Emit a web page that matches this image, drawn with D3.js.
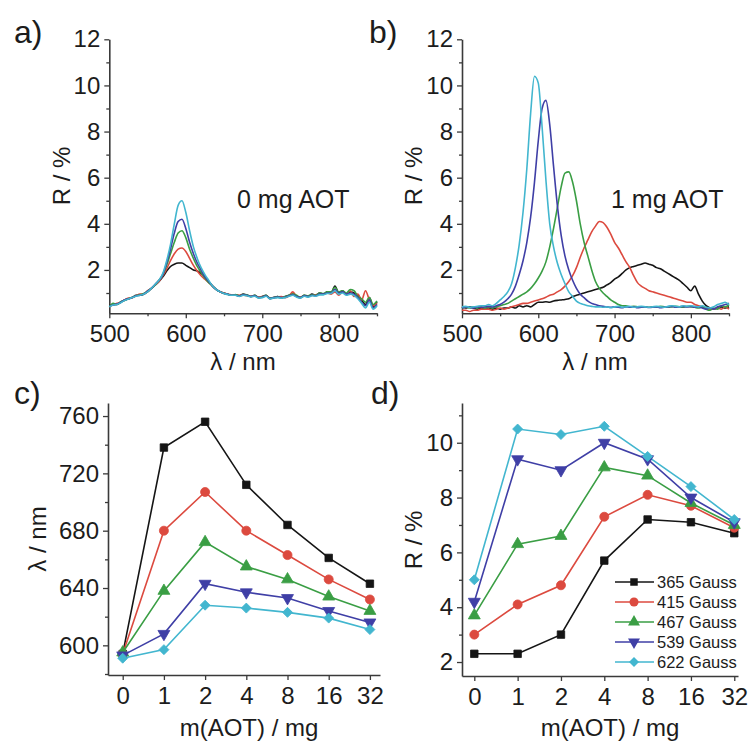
<!DOCTYPE html>
<html>
<head>
<meta charset="utf-8">
<script src="https://cdn.jsdelivr.net/npm/d3@7"></script>
<style>
    body { margin: 0; background: #fff; }
    svg text { font-family: "Liberation Sans", Arial, sans-serif; fill: #1c1c1c; }
</style>
</head>
<body>
<div id="chart"></div>
<script>
// wavelength grid (nm) shared by the spectra
const wl = [500, 505, 510, 515, 520, 525, 530, 535, 540, 545, 550, 555, 560, 565, 570, 575, 580, 585, 590, 595,
    600, 605, 610, 615, 620, 625, 630, 635, 640, 645, 650, 655, 660, 665, 670, 675, 680, 685, 690, 695,
    700, 705, 710, 715, 720, 725, 730, 735, 740, 745, 750, 755, 760, 765, 770, 775, 780, 785, 790, 795,
    800, 805, 810, 815, 820, 825, 830, 835, 840, 845, 850];

// panel a: 0 mg AOT, R / %
const a365 = [0.45, 0.5, 0.5, 0.6, 0.7, 0.75, 0.8, 0.9, 0.9, 0.95, 1.05, 1.2, 1.35, 1.5, 1.7, 1.95, 2.15, 2.25, 2.3, 2.3,
    2.2, 2.1, 2.0, 1.95, 1.85, 1.7, 1.5, 1.3, 1.15, 1.05, 1.0, 0.95, 0.9, 0.92, 0.88, 0.95, 0.9, 0.85, 0.9, 0.8,
    0.85, 0.9, 0.75, 0.8, 0.85, 0.8, 0.85, 0.9, 0.95, 0.85, 0.8, 0.9, 0.85, 0.95, 0.9, 1.0, 0.95, 1.05, 1.0, 1.3,
    1.0, 1.1, 0.95, 1.05, 1.0, 0.9, 0.7, 0.5, 0.8, 0.4, 0.6];
const a415 = [0.4, 0.5, 0.55, 0.6, 0.7, 0.78, 0.8, 0.88, 0.95, 0.95, 1.1, 1.2, 1.35, 1.5, 1.75, 2.05, 2.4, 2.7, 2.9, 2.95,
    2.8, 2.5, 2.2, 1.95, 1.75, 1.6, 1.45, 1.3, 1.15, 1.05, 1.0, 0.95, 0.92, 0.9, 0.9, 0.92, 0.88, 0.85, 0.88, 0.82,
    0.85, 0.88, 0.78, 0.8, 0.82, 0.85, 0.8, 0.88, 1.05, 0.85, 0.82, 0.88, 0.85, 0.9, 0.92, 0.98, 0.95, 1.0, 0.95, 1.05,
    0.9, 1.05, 0.95, 1.1, 0.85, 0.95, 0.7, 1.1, 0.7, 0.45, 0.55];
const a467 = [0.4, 0.55, 0.5, 0.62, 0.68, 0.75, 0.82, 0.88, 0.92, 0.98, 1.08, 1.2, 1.35, 1.55, 1.8, 2.2, 2.7, 3.2, 3.6, 3.7,
    3.4, 2.9, 2.5, 2.15, 1.9, 1.65, 1.45, 1.3, 1.15, 1.05, 0.98, 0.95, 0.9, 0.93, 0.88, 0.93, 0.92, 0.85, 0.9, 0.8,
    0.83, 0.9, 0.78, 0.8, 0.85, 0.78, 0.85, 0.9, 0.95, 0.9, 0.8, 0.9, 0.88, 0.92, 0.9, 1.0, 0.98, 1.05, 1.05, 1.25,
    1.05, 1.1, 1.0, 1.15, 1.1, 0.85, 0.75, 0.6, 0.8, 0.5, 0.65];
const a539 = [0.42, 0.48, 0.52, 0.6, 0.7, 0.75, 0.8, 0.88, 0.9, 0.95, 1.08, 1.2, 1.38, 1.55, 1.8, 2.3, 2.9, 3.6, 4.1, 4.2,
    3.8, 3.2, 2.7, 2.3, 2.0, 1.7, 1.5, 1.3, 1.15, 1.05, 0.98, 0.95, 0.9, 0.9, 0.86, 0.92, 0.9, 0.85, 0.88, 0.8,
    0.82, 0.88, 0.76, 0.8, 0.82, 0.8, 0.82, 0.88, 0.92, 0.85, 0.8, 0.88, 0.85, 0.9, 0.88, 0.95, 0.95, 1.0, 1.0, 1.15,
    1.0, 1.05, 0.95, 1.0, 0.95, 0.8, 0.6, 0.45, 0.7, 0.35, 0.5];
const a622 = [0.4, 0.48, 0.5, 0.58, 0.68, 0.74, 0.8, 0.86, 0.9, 0.95, 1.05, 1.2, 1.38, 1.55, 1.85, 2.4, 3.1, 4.0, 4.8, 5.0,
    4.5, 3.7, 3.0, 2.5, 2.1, 1.8, 1.55, 1.3, 1.15, 1.05, 0.98, 0.93, 0.9, 0.9, 0.85, 0.9, 0.88, 0.83, 0.86, 0.78,
    0.8, 0.86, 0.75, 0.78, 0.8, 0.78, 0.8, 0.86, 0.9, 0.82, 0.78, 0.86, 0.82, 0.88, 0.86, 0.92, 0.92, 0.98, 0.98, 1.1,
    0.95, 1.0, 0.9, 0.95, 0.9, 0.75, 0.55, 0.35, 0.6, 0.3, 0.45];

// panel b: 1 mg AOT, R / %
const b365 = [0.4, 0.35, 0.4, 0.35, 0.3, 0.35, 0.3, 0.35, 0.3, 0.35, 0.3, 0.35, 0.35, 0.4, 0.35, 0.45, 0.4, 0.45, 0.4, 0.5,
    0.6, 0.6, 0.62, 0.6, 0.65, 0.68, 0.7, 0.72, 0.75, 0.85, 0.9, 0.95, 1.0, 1.05, 1.1, 1.15, 1.2, 1.25, 1.35, 1.45,
    1.6, 1.7, 1.85, 2.0, 2.1, 2.15, 2.2, 2.25, 2.3, 2.25, 2.2, 2.1, 2.05, 1.95, 1.85, 1.75, 1.65, 1.55, 1.4, 1.25,
    1.1, 1.3, 0.95, 0.65, 0.45, 0.35, 0.3, 0.35, 0.4, 0.35, 0.4];
const b415 = [0.25, 0.25, 0.2, 0.25, 0.25, 0.3, 0.3, 0.3, 0.25, 0.3, 0.35, 0.3, 0.35, 0.4, 0.45, 0.5, 0.55, 0.55, 0.6, 0.65,
    0.7, 0.75, 0.82, 0.9, 0.95, 1.05, 1.15, 1.3, 1.5, 1.75, 2.1, 2.55, 2.95, 3.3, 3.65, 3.9, 4.1, 4.05, 3.85, 3.55,
    3.2, 2.95, 2.65, 2.35, 2.1, 1.75, 1.45, 1.3, 1.2, 1.1, 1.05, 1.0, 0.95, 0.9, 0.85, 0.8, 0.75, 0.7, 0.65, 0.6,
    0.6, 0.5, 0.45, 0.4, 0.35, 0.3, 0.3, 0.35, 0.3, 0.4, 0.3];
const b467 = [0.35, 0.4, 0.35, 0.4, 0.35, 0.4, 0.35, 0.4, 0.35, 0.4, 0.45, 0.5, 0.55, 0.65, 0.75, 0.85, 0.95, 1.05, 1.2, 1.4,
    1.65, 1.95, 2.35, 3.0, 3.8, 4.7, 5.6, 6.2, 6.25, 5.8, 5.0, 4.0, 3.2, 2.6, 2.0, 1.5, 1.2, 1.0, 0.85, 0.7,
    0.6, 0.5, 0.45, 0.45, 0.4, 0.42, 0.4, 0.38, 0.4, 0.38, 0.4, 0.38, 0.42, 0.4, 0.38, 0.4, 0.42, 0.4, 0.38, 0.42,
    0.4, 0.38, 0.35, 0.4, 0.3, 0.25, 0.35, 0.3, 0.45, 0.4, 0.5];
const b539 = [0.35, 0.4, 0.38, 0.35, 0.4, 0.38, 0.4, 0.42, 0.4, 0.45, 0.5, 0.6, 0.75, 0.95, 1.3, 1.8, 2.4, 3.2, 4.3, 5.8,
    7.6, 9.0, 9.35, 8.3, 6.5, 4.8, 3.5, 2.6, 2.0, 1.55, 1.2, 0.95, 0.8, 0.65, 0.55, 0.5, 0.45, 0.42, 0.4, 0.38,
    0.4, 0.38, 0.36, 0.4, 0.38, 0.4, 0.36, 0.38, 0.4, 0.37, 0.38, 0.4, 0.36, 0.38, 0.4, 0.42, 0.38, 0.4, 0.42, 0.4,
    0.42, 0.38, 0.4, 0.35, 0.3, 0.35, 0.3, 0.4, 0.45, 0.5, 0.55];
const b622 = [0.4, 0.42, 0.38, 0.4, 0.42, 0.45, 0.45, 0.5, 0.45, 0.55, 0.7, 0.85, 1.05, 1.4, 2.1, 3.1, 4.5, 6.4, 8.8, 10.4,
    10.1, 8.2, 5.9, 4.0, 3.0, 2.3, 1.8, 1.4, 1.05, 0.85, 0.65, 0.55, 0.5, 0.45, 0.42, 0.4, 0.4, 0.38, 0.4, 0.36,
    0.4, 0.42, 0.38, 0.4, 0.42, 0.38, 0.4, 0.42, 0.4, 0.38, 0.4, 0.42, 0.4, 0.38, 0.42, 0.45, 0.42, 0.4, 0.45, 0.42,
    0.45, 0.42, 0.4, 0.45, 0.38, 0.35, 0.4, 0.5, 0.55, 0.6, 0.5];

// panels c and d
const aot = ["0", "1", "2", "4", "8", "16", "32"];
const gauss = ["365 Gauss", "415 Gauss", "467 Gauss", "539 Gauss", "622 Gauss"];
const lam365 = [594, 738, 756, 712, 684, 661, 643];
const lam415 = [594, 680, 707, 680, 663, 646, 632];
const lam467 = [595, 638, 672, 655, 646, 634, 624];
const lam539 = [593, 608, 643, 637, 633, 624, 616];
const lam622 = [591, 597, 628, 626, 623, 619, 611];
const r365 = [2.3, 2.3, 3.0, 5.7, 7.2, 7.1, 6.7];
const r415 = [3.0, 4.1, 4.8, 7.3, 8.1, 7.7, 6.9];
const r467 = [3.7, 6.3, 6.6, 9.1, 8.8, 7.8, 7.0];
const r539 = [4.2, 9.4, 9.0, 10.0, 9.4, 8.0, 7.1];
const r622 = [5.0, 10.5, 10.3, 10.6, 9.5, 8.4, 7.2];

const colors = ["#151515", "#dc4a3f", "#3a9e44", "#3f3fa6", "#42b6cf"];
const shapes = ["square", "circle", "up", "down", "diamond"];

const svg = d3.select("#chart").append("svg")
    .attr("width", 752)
    .attr("height", 745);

// draws major + minor ticks along the left / bottom edge
function drawAxes(xs, ys, xMajor, xMinor, yMajor, yMinor, xFmt) {
    const x0 = xs.range()[0], y0 = ys.range()[0];

    const gx = svg.append("g").attr("transform", `translate(0,${y0})`)
        .call(d3.axisBottom(xs).tickValues(xMajor).tickSize(5).tickPadding(7).tickSizeOuter(0).tickFormat(xFmt || d3.format("d")));
    svg.append("g").attr("transform", `translate(0,${y0})`)
        .call(d3.axisBottom(xs).tickValues(xMinor).tickSize(3).tickFormat(""))
        .select(".domain").remove();

    const gy = svg.append("g").attr("transform", `translate(${x0},0)`)
        .call(d3.axisLeft(ys).tickValues(yMajor).tickSize(5).tickPadding(4).tickSizeOuter(0));
    svg.append("g").attr("transform", `translate(${x0},0)`)
        .call(d3.axisLeft(ys).tickValues(yMinor).tickSize(3).tickFormat(""))
        .select(".domain").remove();

    svg.selectAll("g.tick text").attr("font-size", 24).style("font-family", '"Liberation Sans", Arial, sans-serif');
    [gx, gy].forEach(g => {
        g.attr("color", "#3a3a3a");
        g.select(".domain").attr("stroke-width", 1.6);
    });
    svg.selectAll("g.tick line").attr("stroke", "#3a3a3a").attr("stroke-width", 1.3);
}

function axisTitles(xText, xPos, xBase, yText, yPos, yMid) {
    svg.append("text")
        .attr("x", xPos).attr("y", xBase)
        .attr("text-anchor", "middle")
        .attr("font-size", 24)
        .text(xText);
    svg.append("text")
        .attr("transform", `translate(${yPos},${yMid}) rotate(-90)`)
        .attr("text-anchor", "middle")
        .attr("font-size", 24)
        .text(yText);
}

function panelLetter(txt, x, y) {
    svg.append("text").attr("x", x).attr("y", y).attr("font-size", 32).text(txt);
}

// ---- spectra panels (a, b) ----
function spectraPanel(xRange, series, note, noteX) {
    const x = d3.scaleLinear().domain([500, 850]).range(xRange);
    const y = d3.scaleLinear().domain([0.12, 12]).range([313.3, 39.3]);

    drawAxes(x, y, [500, 600, 700, 800], [550, 650, 750, 850],
        [2, 4, 6, 8, 10, 12], [1, 3, 5, 7, 9, 11]);

    const line = d3.line()
        .x((d, i) => x(wl[i]))
        .y(d => y(d))
        .curve(d3.curveMonotoneX);

    series.forEach((s, k) => {
        svg.append("path")
            .datum(s)
            .attr("fill", "none")
            .attr("stroke", colors[k])
            .attr("stroke-width", 1.6)
            .attr("stroke-linejoin", "round")
            .attr("d", line);
    });

    svg.append("text")
        .attr("x", noteX).attr("y", 208)
        .attr("font-size", 25)
        .text(note);
}

spectraPanel([109.3, 377], [a365, a415, a467, a539, a622], "0 mg AOT", 237);
spectraPanel([462, 729], [b365, b415, b467, b539, b622], "1 mg AOT", 611);

// ---- summary panels (c, d) ----
function markerPath(shape) {
    if (shape === "square") return d3.symbol(d3.symbolSquare, 56)();
    if (shape === "circle") return d3.symbol(d3.symbolCircle, 64)();
    if (shape === "up") return d3.symbol(d3.symbolTriangle, 62)();
    if (shape === "down") return d3.symbol(d3.symbolTriangle, 62)();
    return d3.symbol(d3.symbolSquare, 50)();
}
function markerRotate(shape) {
    if (shape === "down") return 180;
    if (shape === "diamond") return 45;
    return 0;
}

function pointPanel(xRange, xDomain, yRange, yDomain, series, yMajor, yMinor) {
    const x = d3.scaleLinear().domain(xDomain).range(xRange);
    const y = d3.scaleLinear().domain(yDomain).range(yRange);

    drawAxes(x, y, d3.range(aot.length), [], yMajor, yMinor, i => aot[i]);

    const line = d3.line()
        .x((d, i) => x(i))
        .y(d => y(d));

    series.forEach((s, k) => {
        svg.append("path")
            .datum(s)
            .attr("fill", "none")
            .attr("stroke", colors[k])
            .attr("stroke-width", 1.6)
            .attr("d", line);
    });
    series.forEach((s, k) => {
        svg.append("g").selectAll("path")
            .data(s)
            .join("path")
            .attr("d", markerPath(shapes[k]))
            .attr("transform", (d, i) => `translate(${x(i)},${y(d)}) rotate(${markerRotate(shapes[k])})`)
            .attr("fill", colors[k])
            .attr("stroke", colors[k])
            .attr("stroke-width", 0.8);
    });
}

pointPanel([108, 380], [-0.357, 6.245], [675, 403], [579.3, 769.1],
    [lam365, lam415, lam467, lam539, lam622],
    [600, 640, 680, 720, 760], [580, 620, 660, 700, 740]);

pointPanel([462, 738], [-0.284, 6.086], [676, 403], [1.49, 11.45],
    [r365, r415, r467, r539, r622],
    [2, 4, 6, 8, 10], [3, 5, 7, 9, 11]);

// legend in panel d
const legend = svg.append("g");
gauss.forEach((name, k) => {
    const ly = 582 + k * 20;
    legend.append("line")
        .attr("x1", 615).attr("x2", 654)
        .attr("y1", ly).attr("y2", ly)
        .attr("stroke", colors[k])
        .attr("stroke-width", 1.6);
    legend.append("path")
        .attr("d", markerPath(shapes[k]))
        .attr("transform", `translate(634,${ly}) rotate(${markerRotate(shapes[k])})`)
        .attr("fill", colors[k]);
    legend.append("text")
        .attr("x", 657).attr("y", ly)
        .attr("dy", "0.35em")
        .attr("font-size", 16.5)
        .text(name);
});

// titles and panel letters
axisTitles("λ / nm", 243, 370, "R / %", 70, 176);
axisTitles("λ / nm", 595, 370, "R / %", 422, 176);
axisTitles("m(AOT) / mg", 249, 736, "λ / nm", 46, 539);
axisTitles("m(AOT) / mg", 610, 736, "R / %", 422, 540);

panelLetter("a)", 14, 43);
panelLetter("b)", 369, 43);
panelLetter("c)", 14, 404);
panelLetter("d)", 371, 404);
</script>
</body>
</html>
